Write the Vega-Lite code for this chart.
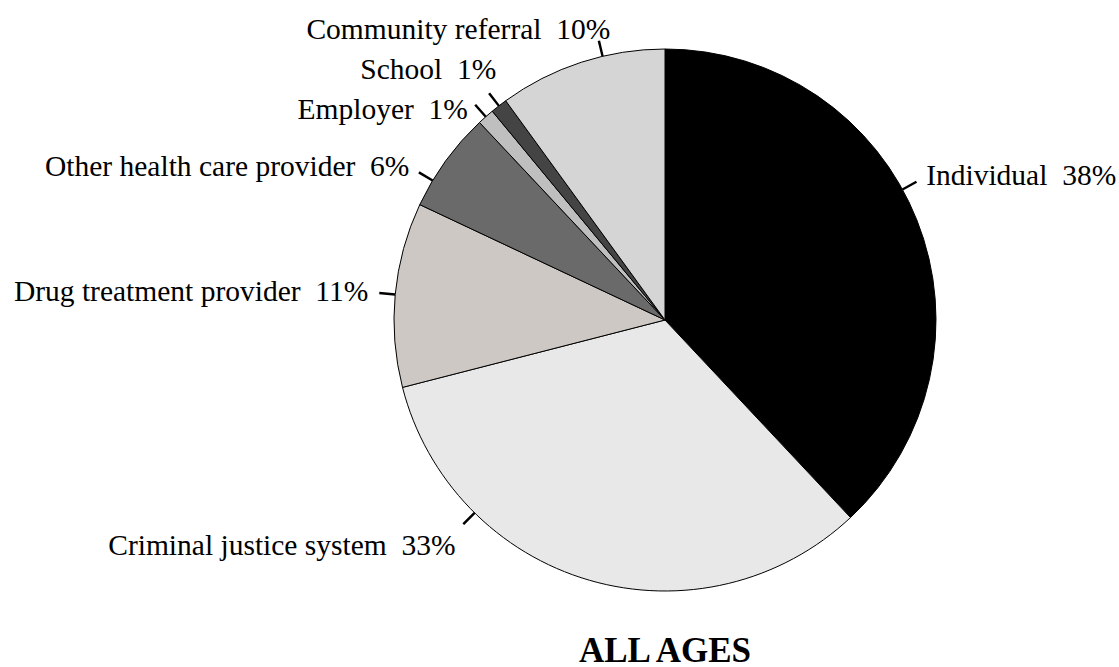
{
  "$schema": "https://vega.github.io/schema/vega-lite/v6.json",
  "width": 908,
  "height": 640,
  "autosize": {"type": "none"},
  "padding": {"left": 211, "top": 0, "right": 0, "bottom": 27},
  "background": "white",
  "config": {"view": {"stroke": null}, "font": "Liberation Serif, DejaVu Serif, serif"},
  "title": {
    "text": "ALL AGES",
    "orient": "bottom",
    "anchor": "middle",
    "font": "Liberation Serif, DejaVu Serif, serif",
    "fontSize": 35,
    "fontWeight": "bold",
    "color": "#000000",
    "offset": -6
  },
  "data": {
    "values": [
      {"cat": "Individual", "pct": 38, "rank": 1},
      {"cat": "Criminal justice system", "pct": 33, "rank": 2},
      {"cat": "Drug treatment provider", "pct": 11, "rank": 3},
      {"cat": "Other health care provider", "pct": 6, "rank": 4},
      {"cat": "Employer", "pct": 1, "rank": 5},
      {"cat": "School", "pct": 1, "rank": 6},
      {"cat": "Community referral", "pct": 10, "rank": 7}
    ]
  },
  "transform": [
    {"stack": "pct", "groupby": [], "sort": [{"field": "rank", "order": "ascending"}], "as": ["s0", "s1"]},
    {"calculate": "(datum.s0 + datum.s1) / 2 + (datum.cat === 'Individual' ? -2 : datum.cat === 'Criminal justice system' ? 7.9 : datum.cat === 'Other health care provider' ? -1.4 : datum.cat === 'Community referral' ? 1.3 : 0)", "as": "mid"},
    {"calculate": "datum.mid - 0.07", "as": "t0"},
    {"calculate": "datum.mid + 0.07", "as": "t1"},
    {"calculate": "datum.cat + '\u00a0\u00a0' + datum.pct + '%'", "as": "label"}
  ],
  "layer": [
    {
      "mark": {"type": "arc", "outerRadius": 271, "stroke": "#000000", "strokeWidth": 1},
      "encoding": {
        "theta": {"field": "s0", "type": "quantitative", "stack": null, "scale": {"domain": [0, 100], "range": [0, 6.283185307]}},
        "theta2": {"field": "s1"},
        "color": {
          "field": "cat",
          "type": "nominal",
          "legend": null,
          "scale": {
            "domain": ["Individual", "Criminal justice system", "Drug treatment provider", "Other health care provider", "Employer", "School", "Community referral"],
            "range": ["#000000", "#e8e8e8", "#cdc8c4", "#6a6a6a", "#bfbfbf", "#444444", "#d5d5d5"]
          }
        }
      }
    },
    {
      "mark": {"type": "arc", "innerRadius": 271, "outerRadius": 287, "fill": "#000000"},
      "encoding": {
        "theta": {"field": "t0", "type": "quantitative", "stack": null, "scale": {"domain": [0, 100], "range": [0, 6.283185307]}},
        "theta2": {"field": "t1"}
      }
    },
    {
      "mark": {
        "type": "text",
        "radius": 298,
        "fontSize": 29.5,
        "font": "Liberation Serif, DejaVu Serif, serif",
        "color": "#000000",
        "align": {"expr": "datum.mid < 50 ? 'left' : 'right'"},
        "baseline": {"expr": "datum.cat === 'School' ? 'bottom' : datum.cat === 'Employer' ? 'top' : (datum.mid > 30 && datum.mid < 70 ? 'top' : 'middle')"},
        "dx": {"expr": "datum.cat === 'School' || datum.cat === 'Community referral' ? 14 : 0"}
      },
      "encoding": {
        "theta": {"field": "mid", "type": "quantitative", "stack": null, "scale": {"domain": [0, 100], "range": [0, 6.283185307]}},
        "text": {"field": "label"}
      }
    }
  ]
}
